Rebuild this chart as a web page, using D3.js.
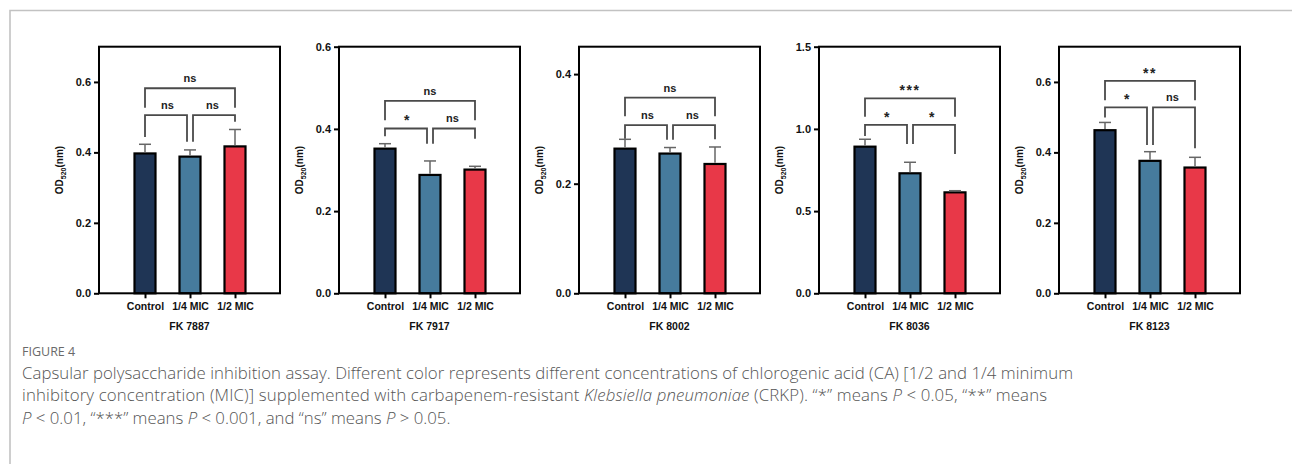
<!DOCTYPE html>
<html><head><meta charset="utf-8">
<script src="https://cdn.jsdelivr.net/npm/d3@7"></script>
<style>
html,body{margin:0;padding:0;background:#fff;}
svg{display:block;}
</style></head><body>
<svg id="chart" width="1292" height="464"></svg>
<script>
// ---------- data ----------
const categories = ["Control", "1/4 MIC", "1/2 MIC"];
const strains = ["FK 7887", "FK 7917", "FK 8002", "FK 8036", "FK 8123"];
const means = [
  [0.397, 0.388, 0.417],
  [0.352, 0.288, 0.301],
  [0.264, 0.255, 0.236],
  [0.892, 0.730, 0.614],
  [0.463, 0.376, 0.357]
];
const errors = [
  [0.026, 0.019, 0.048],
  [0.012, 0.034, 0.008],
  [0.017, 0.011, 0.031],
  [0.045, 0.067, 0.010],
  [0.022, 0.026, 0.029]
];
const yMax = [0.7, 0.6, 0.45, 1.5, 0.7];
const yTicks = [
  [0, 0.2, 0.4, 0.6],
  [0, 0.2, 0.4, 0.6],
  [0, 0.2, 0.4],
  [0, 0.5, 1.0, 1.5],
  [0, 0.2, 0.4, 0.6]
];
// significance labels: [Control vs 1/2, Control vs 1/4, 1/4 vs 1/2]
const sigLabels = [
  ["ns", "ns", "ns"],
  ["ns", "*", "ns"],
  ["ns", "ns", "ns"],
  ["***", "*", "*"],
  ["**", "*", "ns"]
];
// bracket levels (data units): [outer line, outer leg end, inner line, Control leg end, 1/4 leg end, 1/2 leg end]
const bracketLevels = [
  [0.582, 0.527, 0.506, 0.444, 0.430, 0.487],
  [0.468, 0.421, 0.401, 0.382, 0.364, 0.376],
  [0.357, 0.323, 0.307, 0.282, 0.280, 0.281],
  [1.186, 1.074, 1.024, 0.957, 0.908, 0.847],
  [0.603, 0.548, 0.528, 0.499, 0.421, 0.412]
];
const barColors = ["#1f3555", "#467b9d", "#e83848"];
const yTitle = ["OD", "520", "(nm)"];
const figLabel = "FIGURE 4";

// ---------- layout ----------
const svg = d3.select("#chart");
const W = 1292, H = 464;
svg.append("rect").attr("width", W).attr("height", H).attr("fill", "#fff");
// card border
svg.append("path").attr("d", `M10,${H} V10.5 H${W}`)
  .attr("fill", "none").attr("stroke", "#c2c2c2").attr("stroke-width", 1.6);

const plotTop = 46.7, plotBottom = 293.3;
const panelX = d3.scaleBand().domain(strains).range([99, 1240]).paddingInner(59 / 240).paddingOuter(0);
const pw = panelX.bandwidth();
const font = "'Liberation Sans', Arial, Helvetica, sans-serif";

strains.forEach((s, i) => {
  const g = svg.append("g").attr("transform", `translate(${panelX(s)},0)`);
  const x = d3.scalePoint().domain(categories).range([46, 136]);
  const y = d3.scaleLinear().domain([0, yMax[i]]).range([plotBottom, plotTop]);

  // bars
  const bw = 21;
  g.selectAll("rect.bar").data(categories).join("rect")
    .attr("class", "bar")
    .attr("x", c => x(c) - bw / 2)
    .attr("y", (c, j) => y(means[i][j]))
    .attr("width", bw)
    .attr("height", (c, j) => y(0) - y(means[i][j]))
    .attr("fill", (c, j) => barColors[j])
    .attr("stroke", "#000").attr("stroke-width", 2.2);

  // error bars
  const eg = g.append("g").attr("stroke", "#666").attr("stroke-width", 1.5).attr("fill", "none");
  categories.forEach((c, j) => {
    const top = y(means[i][j] + errors[i][j]);
    eg.append("line").attr("x1", x(c)).attr("x2", x(c))
      .attr("y1", y(means[i][j]) - 1.1).attr("y2", top);
    eg.append("line").attr("x1", x(c) - 6).attr("x2", x(c) + 6)
      .attr("y1", top).attr("y2", top);
  });

  // frame
  g.append("rect").attr("x", 0).attr("y", plotTop).attr("width", pw).attr("height", plotBottom - plotTop)
    .attr("fill", "none").attr("stroke", "#000").attr("stroke-width", 2);

  // y axis
  const ya = g.append("g").call(d3.axisLeft(y).tickValues(yTicks[i]).tickSize(5).tickPadding(3)
    .tickFormat(d3.format(".1f")));
  ya.select(".domain").remove();
  ya.selectAll(".tick line").attr("stroke", "#000").attr("stroke-width", 2);
  ya.selectAll(".tick text").attr("font-family", font).attr("font-weight", "bold")
    .attr("font-size", 11).attr("fill", "#111");

  // x axis
  const xa = g.append("g").attr("transform", `translate(0,${plotBottom})`)
    .call(d3.axisBottom(x).tickSize(5).tickPadding(4));
  xa.select(".domain").remove();
  xa.selectAll(".tick line").attr("stroke", "#000").attr("stroke-width", 2);
  xa.selectAll(".tick text").attr("font-family", font).attr("font-weight", "bold")
    .attr("font-size", 10.5).attr("fill", "#111");

  // y title
  const yt = g.append("text")
    .attr("transform", `translate(-36,${(plotTop + plotBottom) / 2}) rotate(-90)`)
    .attr("text-anchor", "middle").attr("font-family", font).attr("font-weight", "bold")
    .attr("font-size", 10).attr("fill", "#111");
  yt.append("tspan").text(yTitle[0]);
  yt.append("tspan").attr("font-size", 7).attr("dy", 2.5).text(yTitle[1]);
  yt.append("tspan").attr("dy", -2.5).text(yTitle[2]);

  // strain title
  g.append("text").attr("x", pw / 2).attr("y", 330).attr("text-anchor", "middle")
    .attr("font-family", font).attr("font-weight", "bold").attr("font-size", 10.5)
    .attr("fill", "#111").text(s);

  // significance brackets
  const L = bracketLevels[i];
  const xa0 = x(categories[0]), xb = x(categories[1]), xc = x(categories[2]);
  const bg = g.append("g").attr("fill", "none").attr("stroke", "#4a4a4a").attr("stroke-width", 1.8);
  bg.append("path").attr("d", `M${xa0},${y(L[1])} V${y(L[0])} H${xc} V${y(L[1])}`);
  bg.append("path").attr("d", `M${xa0},${y(L[3])} V${y(L[2])} H${xb - 3} V${y(L[4])}`);
  bg.append("path").attr("d", `M${xb + 3},${y(L[4])} V${y(L[2])} H${xc} V${y(L[5])}`);
  const labs = [
    { x: (xa0 + xc) / 2, y: y(L[0]), t: sigLabels[i][0] },
    { x: (xa0 + xb) / 2, y: y(L[2]), t: sigLabels[i][1] },
    { x: (xb + xc) / 2, y: y(L[2]), t: sigLabels[i][2] }
  ];
  labs.forEach(d => {
    const star = d.t.startsWith("*");
    g.append("text").attr("x", d.x).attr("y", d.y - (star ? 3 : 6)).attr("text-anchor", "middle")
      .attr("font-family", font).attr("font-weight", "bold")
      .attr("font-size", star ? 14 : 11).attr("letter-spacing", star ? 1.5 : 0)
      .attr("fill", "#222").text(d.t);
  });
});

// ---------- caption ----------
const capFont = "'Open Sans', 'Noto Sans', sans-serif";
svg.append("text").attr("x", 22).attr("y", 356).attr("font-family", capFont)
  .attr("font-size", 12.5).attr("fill", "#6a6a6a").text(figLabel);

const capLines = [
  [["Capsular polysaccharide inhibition assay. Different color represents different concentrations of chlorogenic acid (CA) [1/2 and 1/4 minimum", false]],
  [["inhibitory concentration (MIC)] supplemented with carbapenem-resistant ", false], ["Klebsiella pneumoniae", true], [" (CRKP). \u201C*\u201D means ", false], ["P", true], [" < 0.05, \u201C**\u201D means", false]],
  [["P", true], [" < 0.01, \u201C***\u201D means ", false], ["P", true], [" < 0.001, and \u201Cns\u201D means ", false], ["P", true], [" > 0.05.", false]]
];
const capWidths = [1051, 1025, null];
capLines.forEach((parts, k) => {
  const t = svg.append("text").attr("x", 22).attr("y", 378.5 + k * 22.7)
    .attr("font-family", capFont).attr("font-weight", 300).attr("font-size", 16.8)
    .attr("fill", "#555");
  parts.forEach(p => {
    t.append("tspan").attr("font-style", p[1] ? "italic" : "normal").text(p[0]);
  });
  if (capWidths[k]) t.attr("textLength", capWidths[k]).attr("lengthAdjust", "spacing");
});
</script>
</body></html>
